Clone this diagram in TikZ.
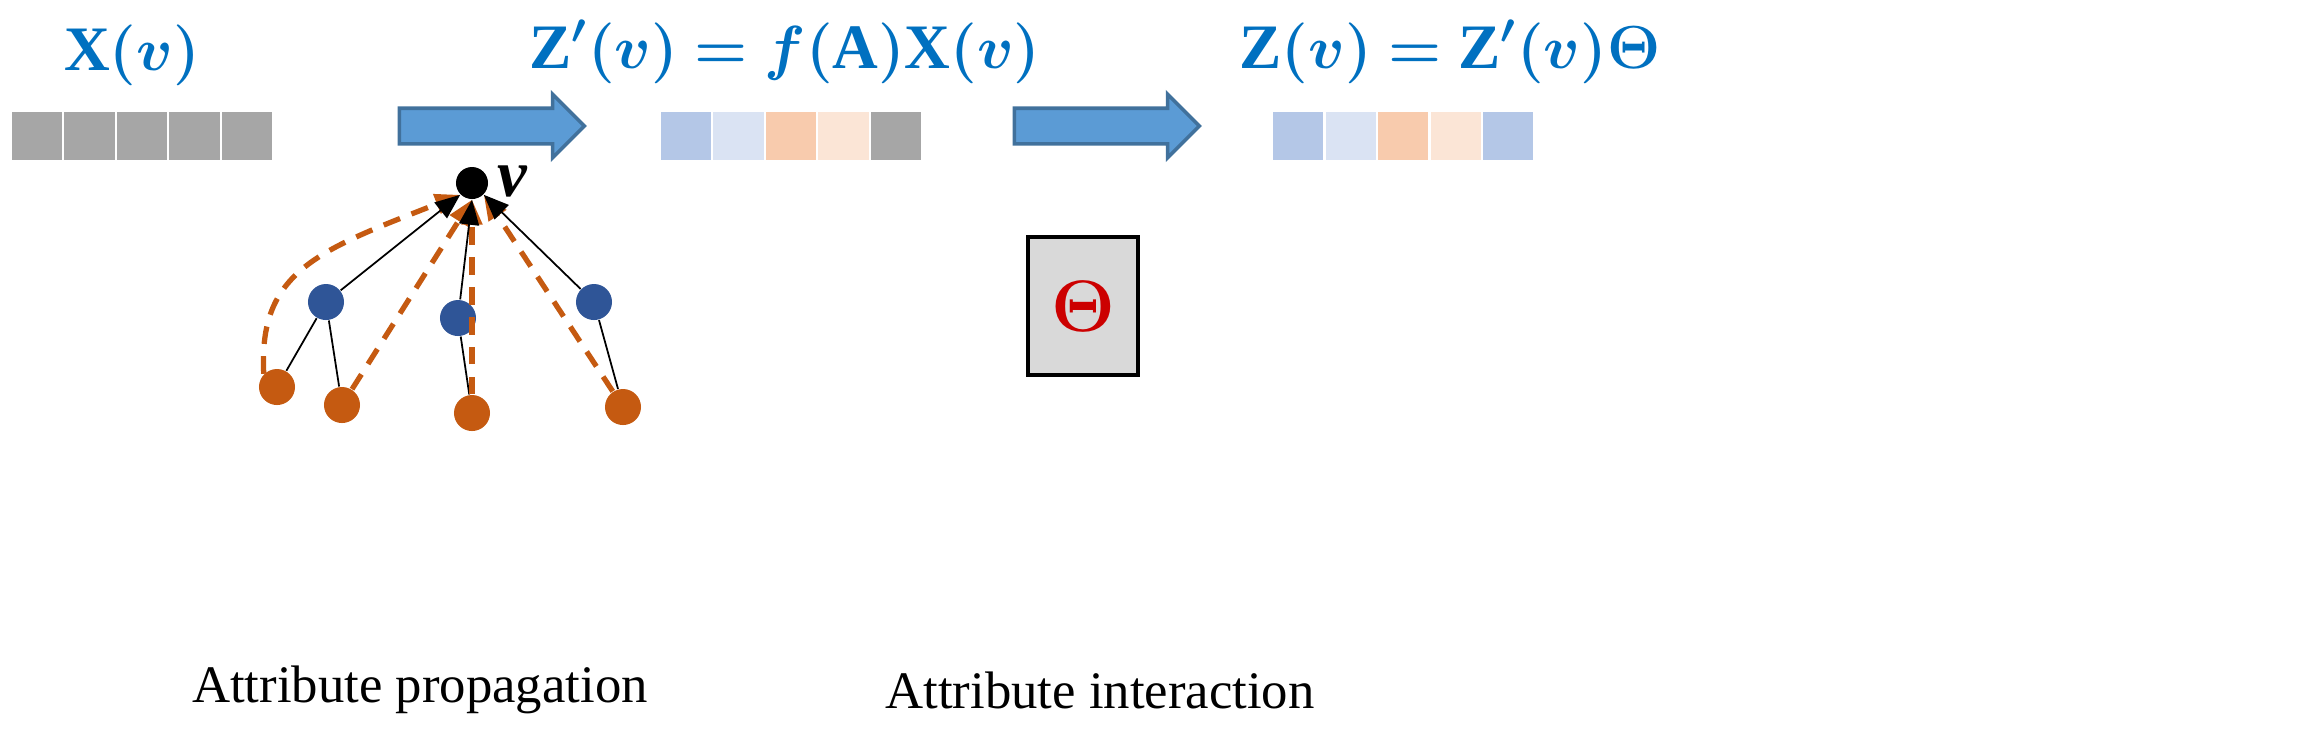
\documentclass[tikz,border=0pt]{standalone}
\usepackage{amsmath,bm}
\usepackage{fontspec}
\setmainfont{Liberation Serif}
\usetikzlibrary{shapes.arrows,arrows.meta}
\definecolor{tblue}{RGB}{0,112,192}
\definecolor{nblue}{RGB}{47,85,151}
\definecolor{norange}{RGB}{197,90,17}
\definecolor{cg}{RGB}{166,166,166}
\definecolor{cb1}{RGB}{180,199,231}
\definecolor{cb2}{RGB}{218,227,243}
\definecolor{co1}{RGB}{248,203,173}
\definecolor{co2}{RGB}{251,229,214}
\definecolor{afill}{RGB}{91,155,213}
\definecolor{aedge}{RGB}{65,113,156}
\begin{document}
\begin{tikzpicture}[x=0.01cm,y=-0.01cm,
  cell/.style={draw=none,minimum width=0.5cm,minimum height=0.48cm,inner sep=0},
  bigarrow/.style={single arrow,draw=aedge,fill=afill,line width=1pt,minimum height=1.85cm,single arrow head extend=0.14cm,inner sep=0,single arrow tip angle=90},
  formula/.style={text=tblue,font=\fontsize{18}{22}\selectfont},
  bn/.style={circle,fill=nblue,minimum size=0.36cm,inner sep=0},
  on/.style={circle,fill=norange,minimum size=0.36cm,inner sep=0},
  edge/.style={black,line width=0.5pt},
  earr/.style={black,line width=0.5pt,-{Triangle[length=0.25cm,width=0.2cm]}},
  darr/.style={norange,line width=1.5pt,dash pattern=on 5pt off 3.5pt,-{Triangle[length=0.25cm,width=0.2cm]}},
  lab/.style={font=\fontsize{15}{18}\selectfont}]
\useasboundingbox (0,0) rectangle (2300,744);
\node[formula] (fx) at (132,55) {$\bm{\mathrm{X}(v)}$};
\node[formula] (fz1) at (785,52) {$\bm{\mathrm{Z}'(v)=f(\mathrm{A})\mathrm{X}(v)}$};
\node[formula] (fz2) at (1450,52) {$\bm{\mathrm{Z}(v)=\mathrm{Z}'(v)\Theta}$};
\foreach \i in {0,...,4}{\node[cell,fill=cg] (a\i) at (37+\i*52.5,136) {};}
\foreach \i/\c in {0/cb1,1/cb2,2/co1,3/co2,4/cg}{\node[cell,fill=\c] (b\i) at (686+\i*52.5,136) {};}
\foreach \i/\c in {0/cb1,1/cb2,2/co1,3/co2,4/cb1}{\node[cell,fill=\c] (c\i) at (1298+\i*52.5,136) {};}
\node[bigarrow] (ar1) at (483,126) {\rule{0pt}{0.32cm}};
\node[bigarrow] (ar2) at (1098,126) {\rule{0pt}{0.32cm}};
\node[circle,fill=black,minimum size=0.32cm,inner sep=0] (v) at (472,183) {};
\node[font=\fontsize{19}{22}\selectfont\bfseries\itshape] (vl) at (512,181) {v};
\node[bn] (b1) at (326,302) {};
\node[bn] (b2) at (458,318) {};
\node[bn] (b3) at (594,302) {};
\node[on] (o1) at (277,387) {};
\node[on] (o2) at (342,405) {};
\node[on] (o3) at (472,413) {};
\node[on] (o4) at (623,407) {};
\draw[edge] (b1) -- (o1);
\draw[edge] (b1) -- (o2);
\draw[edge] (b2) -- (o3);
\draw[edge] (b3) -- (o4);
\draw[darr] (o1.north west) .. controls (258,270) and (320,250) .. (v.south west);
\draw[darr] (o2) -- (v.south);
\draw[darr] (o3.north) -- (v.south);
\draw[darr] (o4) -- (v.south east);
\draw[earr] (b1) -- (v.south west);
\draw[earr] (b2) -- (v.south);
\draw[earr] (b3) -- (v.south east);
\node[draw=black,fill=black!15,line width=1.2pt,minimum width=1.1cm,minimum height=1.38cm] (th) at (1083,306) {};
\node[text=red!80!black,font=\fontsize{22}{26}\selectfont] (tht) at (th) {$\bm{\Theta}$};
\node[lab] (l1) at (420,690) {Attribute propagation};
\node[lab] (l2) at (1100,690) {Attribute interaction};
\end{tikzpicture}
\end{document}
